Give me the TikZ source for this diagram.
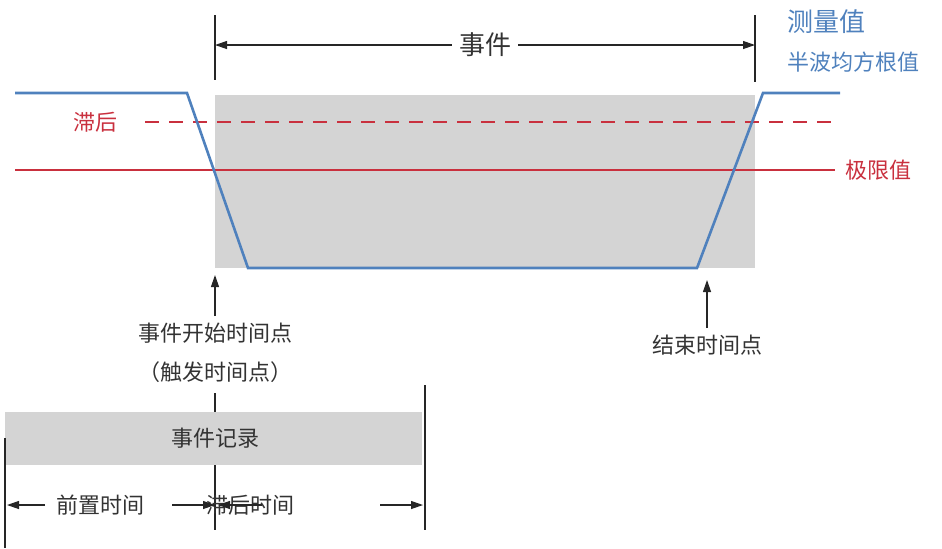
\documentclass[tikz,border=0pt]{standalone}
\usepackage{fontspec}
\setmainfont{Noto Sans CJK SC}
\usetikzlibrary{arrows.meta}
\definecolor{signalblue}{HTML}{4F81BD}
\definecolor{limitred}{HTML}{C9303E}
\definecolor{bg-color}{HTML}{D4D4D4}
\tikzset{
    label-text/.style={font=\fontsize{11}{13}\selectfont, text=black!80},
    dim-arrow/.style={-{Triangle[length=6pt,width=4pt]}, black!85, line width=0.6pt},
}

\begin{document}
\begin{tikzpicture}[x=0.5pt, y=-0.5pt]
\useasboundingbox (0,0) rectangle (942,548);

% Event area
\fill[bg-color] (215,95) rectangle (755,268);

% Hysteresis and limit lines
\draw[limitred, line width=1.4pt, dash pattern=on 7pt off 5pt] (145,122) -- (840,122);
\draw[limitred, line width=1.4pt] (15,170) -- (835,170);
\node[label-text, text=limitred] (hyst) at (95,122) {滞后};
\node[label-text, text=limitred, anchor=west] (limit) at (838,170) {极限值};

% Measured value
\draw[signalblue, line width=1.3pt] (15,93) -- (187,93) -- (248,268) -- (697,268) -- (763,93) -- (840,93);
\node[font=\fontsize{13}{15}\selectfont, text=signalblue, anchor=west] (meas) at (780,22) {测量值};
\node[label-text, text=signalblue, anchor=west] (rms) at (780,62) {半波均方根值};

% Event span
\coordinate (evL) at (215,45);
\coordinate (evR) at (755,45);
\draw[black!85, line width=0.6pt] (215,15) -- (215,80);
\draw[black!85, line width=0.6pt] (755,15) -- (755,82);
\node[font=\fontsize{13}{15}\selectfont, text=black!80, fill=white] (event) at (485,45) {事件};
\draw[dim-arrow] (event) -- (evL);
\draw[dim-arrow] (event) -- (evR);

% Start and end points
\node[label-text, anchor=north] (start) at (215,316) {事件开始时间点};
\node[label-text, anchor=north] (trig) at (215,355) {（触发时间点）};
\coordinate (startTop) at (215,275);
\draw[dim-arrow] (start.north) -- (startTop);
\node[label-text, anchor=north] (stop) at (707,328) {结束时间点};
\coordinate (stopTop) at (707,280);
\draw[dim-arrow] (stop.north) -- (stopTop);

% Event recording
\draw[black!85, line width=0.6pt] (215,393) -- (215,530);
\fill[bg-color] (5,412) rectangle (422,465);
\node[label-text] (record) at (215,438) {事件记录};
\draw[black!85, line width=0.6pt] (5,438) -- (5,548);
\draw[black!85, line width=0.6pt] (425,385) -- (425,530);

% Pre-trigger and post-trigger times
\coordinate (preL) at (7,505);
\coordinate (preR) at (215,505);
\coordinate (postL) at (218,505);
\coordinate (postR) at (423,505);
\node[label-text] (pre) at (100,505) {前置时间};
\node[label-text] (post) at (250,505) {滞后时间};
\draw[dim-arrow] (45,505) -- (preL);
\draw[dim-arrow] (172,505) -- (preR);
\draw[dim-arrow] (262,505) -- (postL);
\draw[dim-arrow] (380,505) -- (postR);
\end{tikzpicture}
\end{document}
